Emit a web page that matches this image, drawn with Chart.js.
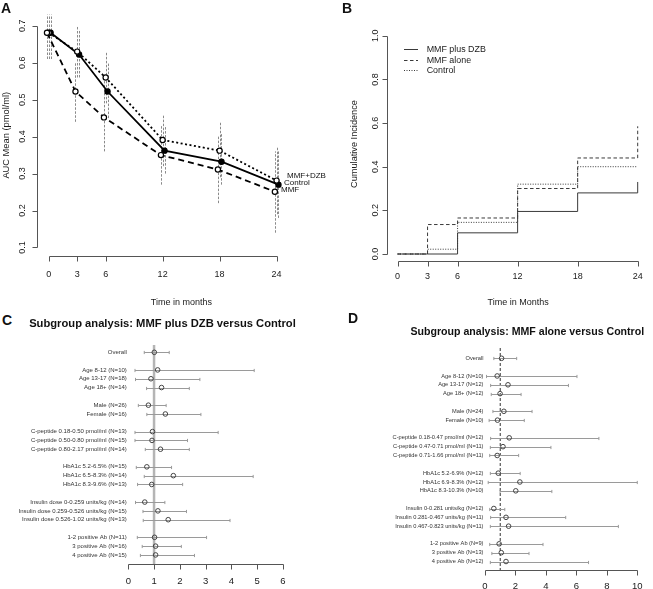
<!DOCTYPE html>
<html>
<head>
<meta charset="utf-8">
<script src="https://cdn.jsdelivr.net/npm/chart.js@4.4.1/dist/chart.umd.min.js"></script>
<style>
  body { margin: 0; background: #fff; }
  #fig { position: relative; width: 653px; height: 589px; background: #fff; overflow: hidden;
         font-family: "Liberation Sans", Arial, Helvetica, sans-serif; color: #111; }
  #fig canvas { position: absolute; }
  .txt { position: absolute; white-space: nowrap; }
  .tag { font-weight: bold; font-size: 14px; line-height: 14px; }
</style>
</head>
<body>
<div id="fig">
  <canvas id="chartA" width="330" height="312" style="left:0;top:0"></canvas>
  <canvas id="chartB" width="323" height="312" style="left:330px;top:0"></canvas>
  <canvas id="chartC" width="330" height="259" style="left:0;top:330px"></canvas>
  <canvas id="chartD" width="323" height="259" style="left:330px;top:330px"></canvas>

  <div class="txt tag" style="left:1px;top:1px">A</div>
  <div class="txt tag" style="left:342px;top:1px">B</div>
  <div class="txt tag" style="left:2px;top:313px">C</div>
  <div class="txt tag" style="left:348px;top:311px">D</div>

  <div class="txt" style="left:287px;top:172px;font-size:8px;line-height:8px">MMF+DZB</div>
  <div class="txt" style="left:284px;top:179px;font-size:8px;line-height:8px">Control</div>
  <div class="txt" style="left:281px;top:186px;font-size:8px;line-height:8px">MMF</div>

  <div class="txt" style="left:0;width:325px;top:317.5px;text-align:center;font-weight:bold;font-size:11.2px;line-height:11.2px">Subgroup analysis: MMF plus DZB versus Control</div>
  <div class="txt" style="left:410px;width:234.6px;top:325.5px;text-align:center;font-weight:bold;font-size:10.6px;line-height:10.6px">Subgroup analysis: MMF alone versus Control</div>
</div>

<script>
// ---- A : C-peptide AUC mean by visit ----
const visitMonths = [0, 3, 6, 12, 18, 24];
const aucTicks = [0.1, 0.2, 0.3, 0.4, 0.5, 0.6, 0.7];
const aucDzb   = [0.681, 0.622, 0.522, 0.362, 0.332, 0.270];
const aucDzbLo = [0.61, 0.56, 0.45, 0.30, 0.27, 0.18];
const aucDzbHi = [0.73, 0.69, 0.60, 0.43, 0.41, 0.36];
const aucMmf   = [0.681, 0.522, 0.452, 0.350, 0.311, 0.251];
const aucMmfLo = [0.61, 0.44, 0.36, 0.27, 0.22, 0.14];
const aucMmfHi = [0.73, 0.60, 0.55, 0.43, 0.40, 0.36];
const aucCtl   = [0.681, 0.630, 0.560, 0.391, 0.362, 0.281];
const aucCtlLo = [0.61, 0.56, 0.49, 0.32, 0.29, 0.19];
const aucCtlHi = [0.73, 0.70, 0.63, 0.46, 0.44, 0.37];

// ---- B : cumulative incidence (value after the step at each month) ----
const eventMonths = [0, 3, 6, 12, 18, 24];
const incidenceTicks = [0, 0.2, 0.4, 0.6, 0.8, 1.0];
const incDzb = [0, 0, 0.097, 0.195, 0.280, 0.330];
const incMmf = [0, 0.135, 0.165, 0.300, 0.440, 0.585];
const incCtl = [0, 0.022, 0.145, 0.320, 0.400, 0.400];

// ---- C : subgroups MMF plus DZB vs control ----
const groupsC = ['Overall', '', 'Age 8-12 (N=10)', 'Age 13-17 (N=18)', 'Age 18+ (N=14)', '',
  'Male (N=26)', 'Female (N=16)', '',
  'C-peptide 0.18-0.50 pmol/ml (N=13)', 'C-peptide 0.50-0.80 pmol/ml (N=15)', 'C-peptide 0.80-2.17 pmol/ml (N=14)', '',
  'HbA1c 5.2-6.5% (N=15)', 'HbA1c 6.5-8.3% (N=14)', 'HbA1c 8.3-9.6% (N=13)', '',
  'Insulin dose 0-0.259 units/kg (N=14)', 'Insulin dose 0.259-0.526 units/kg (N=15)', 'Insulin dose 0.526-1.02 units/kg (N=13)', '',
  '1-2 positive Ab (N=11)', '3 positive Ab (N=16)', '4 positive Ab (N=15)'];
const estC = [1.01, null, 1.14, 0.88, 1.29, null, 0.78, 1.44, null, 0.94, 0.92, 1.25, null, 0.72, 1.75, 0.91, null, 0.64, 1.15, 1.55, null, 1.02, 1.06, 1.06];
const loC  = [0.62, null, 0.26, 0.28, 0.71, null, 0.39, 0.72, null, 0.26, 0.26, 0.66, null, 0.31, 0.62, 0.36, null, 0.28, 0.57, 0.58, null, 0.35, 0.54, 0.47];
const hiC  = [1.59, null, 4.89, 2.78, 2.37, null, 1.47, 2.82, null, 3.49, 2.30, 2.37, null, 1.68, 4.85, 2.11, null, 1.42, 2.26, 3.95, null, 3.04, 2.06, 2.57];
const ticksC = [0, 1, 2, 3, 4, 5, 6];

// ---- D : subgroups MMF alone vs control ----
const groupsD = ['Overall', '', 'Age 8-12 (N=10)', 'Age 13-17 (N=12)', 'Age 18+ (N=12)', '',
  'Male (N=24)', 'Female (N=10)', '',
  'C-peptide 0.18-0.47 pmol/ml (N=12)', 'C-peptide 0.47-0.71 pmol/ml (N=11)', 'C-peptide 0.71-1.66 pmol/ml (N=11)', '',
  'HbA1c 5.2-6.9% (N=12)', 'HbA1c 6.9-8.3% (N=12)', 'HbA1c 8.3-10.3% (N=10)', '',
  'Insulin 0-0.281 units/kg (N=12)', 'Insulin 0.281-0.467 units/kg (N=11)', 'Insulin 0.467-0.823 units/kg (N=11)', '',
  '1-2 positive Ab (N=9)', '3 positive Ab (N=13)', '4 positive Ab (N=12)'];
const estD = [1.09, null, 0.80, 1.51, 0.99, null, 1.24, 0.82, null, 1.59, 1.18, 0.80, null, 0.87, 2.29, 2.02, null, 0.58, 1.38, 1.55, null, 0.93, 1.07, 1.38];
const loD  = [0.58, null, 0.10, 0.37, 0.41, null, 0.52, 0.27, null, 0.37, 0.35, 0.31, null, 0.35, 0.21, 0.99, null, 0.31, 0.37, 0.35, null, 0.31, 0.45, 0.35];
const hiD  = [2.08, null, 6.04, 5.48, 2.37, null, 3.09, 2.58, null, 7.48, 4.33, 2.21, null, 2.31, 10.0, 4.39, null, 1.30, 5.30, 8.76, null, 3.81, 2.89, 6.80];
const ticksD = [0, 2, 4, 6, 8, 10];

Chart.defaults.font.family = '"Liberation Sans", Arial, Helvetica, sans-serif';
Chart.defaults.color = '#1a1a1a';
Chart.defaults.animation = false;
Chart.defaults.responsive = false;
Chart.defaults.plugins.legend.display = false;
Chart.defaults.plugins.tooltip.enabled = false;

// R style axis : line from first to last tick, tick marks pointing out
const rAxes = {
  id: 'rAxes',
  afterDraw(chart, args, opts) {
    const ctx = chart.ctx;
    ctx.save();
    ctx.strokeStyle = '#555';
    ctx.lineWidth = 1;
    ctx.setLineDash([]);
    ctx.beginPath();
    for (const id of (opts.axes || [])) {
      const s = chart.scales[id];
      const t = s.ticks;
      const p0 = s.getPixelForValue(t[0].value);
      const p1 = s.getPixelForValue(t[t.length - 1].value);
      if (s.isHorizontal()) {
        const y = Math.round(s.top) + 0.5;
        ctx.moveTo(Math.round(p0) + 0.5, y); ctx.lineTo(Math.round(p1) + 0.5, y);
        t.forEach(k => { const p = Math.round(s.getPixelForValue(k.value)) + 0.5; ctx.moveTo(p, y); ctx.lineTo(p, y + 5); });
      } else {
        const x = Math.round(s.right) - 0.5;
        ctx.moveTo(x, Math.round(p0) + 0.5); ctx.lineTo(x, Math.round(p1) + 0.5);
        t.forEach(k => { const p = Math.round(s.getPixelForValue(k.value)) + 0.5; ctx.moveTo(x, p); ctx.lineTo(x - 5, p); });
      }
    }
    ctx.stroke();
    ctx.restore();
  }
};

// reference line + error bars, under the points
const extras = {
  id: 'extras',
  beforeDatasetsDraw(chart, args, opts) {
    const ctx = chart.ctx, xs = chart.scales.x, ys = chart.scales.y, area = chart.chartArea;
    ctx.save();
    if (opts.refLine) {
      const r = opts.refLine;
      const x = xs.getPixelForValue(r.value);
      ctx.strokeStyle = r.color; ctx.lineWidth = r.width; ctx.setLineDash(r.dash || []);
      ctx.beginPath(); ctx.moveTo(x, area.top); ctx.lineTo(x, area.bottom); ctx.stroke();
    }
    chart.data.datasets.forEach(ds => {
      const eb = ds.errorBars;
      if (!eb) return;
      ctx.strokeStyle = eb.color; ctx.lineWidth = eb.width; ctx.setLineDash(eb.dash || []);
      ctx.beginPath();
      ds.data.forEach((pt, j) => {
        if (pt.x == null || eb.lo[j] == null) return;
        if (eb.horizontal) {
          const y = Math.round(ys.getPixelForValue(pt.y)) + 0.5;
          const x0 = xs.getPixelForValue(eb.lo[j]), x1 = xs.getPixelForValue(eb.hi[j]);
          ctx.moveTo(x0, y); ctx.lineTo(x1, y);
          ctx.moveTo(x0, y - eb.cap); ctx.lineTo(x0, y + eb.cap);
          ctx.moveTo(x1, y - eb.cap); ctx.lineTo(x1, y + eb.cap);
        } else {
          const x = Math.round(xs.getPixelForValue(pt.x)) + 0.5;
          ctx.moveTo(x, ys.getPixelForValue(eb.lo[j])); ctx.lineTo(x, ys.getPixelForValue(eb.hi[j]));
        }
      });
      ctx.stroke();
    });
    ctx.restore();
  }
};

// line legend inside the plot (panel B)
const lineLegend = {
  id: 'lineLegend',
  afterDatasetsDraw(chart, args, opts) {
    if (!opts.show) return;
    const ctx = chart.ctx, area = chart.chartArea;
    ctx.save();
    ctx.font = opts.font + 'px "Liberation Sans", Arial, sans-serif';
    ctx.textBaseline = 'middle';
    ctx.fillStyle = '#1a1a1a';
    chart.data.datasets.forEach((ds, i) => {
      const x = area.left + opts.dx, y = Math.round(area.top + opts.dy + i * opts.rowH) + 0.5;
      ctx.strokeStyle = ds.borderColor; ctx.lineWidth = ds.borderWidth; ctx.setLineDash(ds.borderDash || []);
      ctx.beginPath(); ctx.moveTo(x, y); ctx.lineTo(x + opts.len, y); ctx.stroke();
      ctx.fillText(ds.label, x + opts.len + opts.gap, y);
    });
    ctx.restore();
  }
};

Chart.register(rAxes, extras, lineLegend);

const noGrid = { display: false, drawTicks: false };
const noBorder = { display: false };

// ---------------- A ----------------
function aucSeries(label, vals, lo, hi, dodge, dash, fill) {
  return {
    label: label,
    data: visitMonths.map((m, i) => ({ x: m + dodge, y: vals[i] })),
    showLine: true, borderColor: '#000', borderWidth: 1.8, borderDash: dash,
    pointRadius: 2.6, pointBorderWidth: 1.2, pointBorderColor: '#000', pointBackgroundColor: fill,
    errorBars: { lo: lo, hi: hi, color: '#8a8a8a', width: 1, dash: [2.5, 1.5] }
  };
}

new Chart(document.getElementById('chartA'), {
  type: 'scatter',
  data: {
    datasets: [
      aucSeries('MMF', aucMmf, aucMmfLo, aucMmfHi, -0.18, [6, 4], '#fff'),
      aucSeries('Control', aucCtl, aucCtlLo, aucCtlHi, 0, [2, 2.5], '#fff'),
      aucSeries('MMF+DZB', aucDzb, aucDzbLo, aucDzbHi, 0.2, [], '#000')
    ]
  },
  options: {
    layout: { padding: { left: 0, top: 0, right: 5, bottom: 0 } },
    plugins: { rAxes: { axes: ['x', 'y'] } },
    scales: {
      x: {
        type: 'linear', bounds: 'data', min: -1.126, max: 29.08,
        afterBuildTicks: s => { s.ticks = visitMonths.map(v => ({ value: v })); },
        grid: noGrid, border: noBorder,
        ticks: { padding: 13.6, font: { size: 9 }, callback: v => String(v) },
        title: { display: true, text: 'Time in months', font: { size: 9 }, padding: { top: 0, bottom: 3.6 } },
        afterFit: s => { s.height = 56; }
      },
      y: {
        type: 'linear', bounds: 'data', min: 0.077, max: 0.7306,
        afterBuildTicks: s => { s.ticks = aucTicks.map(v => ({ value: v })); },
        grid: noGrid, border: noBorder,
        ticks: { padding: 9, minRotation: 90, maxRotation: 90, crossAlign: 'center', font: { size: 9 }, callback: v => v.toFixed(1) },
        title: { display: true, text: 'AUC Mean (pmol/ml)', font: { size: 9.3 }, padding: { top: 0.6, bottom: 0 } },
        afterFit: s => { s.width = 38; }
      }
    }
  }
});

// ---------------- B ----------------
function stepSeries(label, vals, dash) {
  return {
    label: label,
    data: eventMonths.map((m, i) => ({ x: m, y: vals[i] })),
    showLine: true, stepped: true, borderColor: '#3a3a3a', borderWidth: 1, borderDash: dash,
    pointRadius: 0
  };
}

new Chart(document.getElementById('chartB'), {
  type: 'scatter',
  data: {
    datasets: [
      stepSeries('MMF plus DZB', incDzb, []),
      stepSeries('MMF alone', incMmf, [3.5, 2.5]),
      stepSeries('Control', incCtl, [1, 1.5])
    ]
  },
  options: {
    layout: { padding: { left: 0, top: 27, right: 0, bottom: 0 } },
    plugins: {
      rAxes: { axes: ['x', 'y'] },
      lineLegend: { show: true, dx: 16, dy: 22.3, rowH: 10.5, len: 14, gap: 8.7, font: 8.9 }
    },
    scales: {
      x: {
        type: 'linear', bounds: 'data', min: -0.952, max: 25.05,
        afterBuildTicks: s => { s.ticks = eventMonths.map(v => ({ value: v })); },
        grid: noGrid, border: noBorder,
        ticks: { padding: 10.3, font: { size: 9 }, callback: v => String(v) },
        title: { display: true, text: 'Time in Months', font: { size: 9 }, padding: { top: 0, bottom: 3.6 } },
        afterFit: s => { s.height = 51; }
      },
      y: {
        type: 'linear', bounds: 'data', min: -0.032, max: 1.04,
        afterBuildTicks: s => { s.ticks = incidenceTicks.map(v => ({ value: v })); },
        grid: noGrid, border: noBorder,
        ticks: { padding: 6.7, minRotation: 90, maxRotation: 90, crossAlign: 'center', font: { size: 9 }, callback: v => v.toFixed(1) },
        title: { display: true, text: 'Cumulative Incidence', font: { size: 9.2 }, padding: { top: 18.6, bottom: 0 } },
        afterFit: s => { s.width = 58; }
      }
    }
  }
});

// ---------------- C & D : forest plots ----------------
function forest(canvasId, groups, est, lo, hi, xTicks, cfg) {
  new Chart(document.getElementById(canvasId), {
    type: 'scatter',
    data: {
      datasets: [{
        label: 'estimate',
        data: est.map((e, i) => ({ x: e, y: i })),
        pointRadius: 2.3, pointBorderWidth: 1, pointBorderColor: '#444',
        pointBackgroundColor: 'rgba(255,255,255,0)',
        errorBars: { lo: lo, hi: hi, horizontal: true, color: '#9a9a9a', width: 1, cap: 1.6 }
      }]
    },
    options: {
      layout: { padding: { left: 0, top: cfg.top, right: cfg.right, bottom: 0 } },
      plugins: { rAxes: { axes: ['x'] }, extras: { refLine: cfg.refLine } },
      scales: {
        x: {
          type: 'linear', bounds: 'data', min: 0, max: cfg.xMax,
          afterBuildTicks: s => { s.ticks = xTicks.map(v => ({ value: v })); },
          grid: noGrid, border: noBorder,
          ticks: { padding: cfg.tickPad, font: { size: 9.5 }, callback: v => String(v) },
          afterFit: s => { s.height = cfg.xHeight; }
        },
        y: {
          type: 'linear', bounds: 'data', reverse: true, min: cfg.yMin, max: cfg.yMax,
          afterBuildTicks: s => { s.ticks = groups.map((g, i) => ({ value: i })); },
          grid: noGrid, border: noBorder,
          ticks: { autoSkip: false, padding: 1.5, font: { size: cfg.labelSize }, color: '#333', callback: v => groups[v] },
          afterFit: s => { s.width = cfg.yWidth; }
        }
      }
    }
  });
}

forest('chartC', groupsC, estC, loC, hiC, ticksC, {
  top: 15, right: 40, xHeight: 25, yWidth: 128.3, xMax: 6.28, yMin: -0.83, yMax: 24.03,
  tickPad: 11.3, labelSize: 6,
  refLine: { value: 1, color: '#b5b5b5', width: 2.5 }
});

forest('chartD', groupsD, estD, loD, hiD, ticksD, {
  top: 18, right: 1.5, xHeight: 19, yWidth: 155, xMax: 10.3, yMin: -1.165, yMax: 23.96,
  tickPad: 10.3, labelSize: 5.7,
  refLine: { value: 1, color: '#333', width: 1, dash: [3, 2] }
});
</script>
</body>
</html>
